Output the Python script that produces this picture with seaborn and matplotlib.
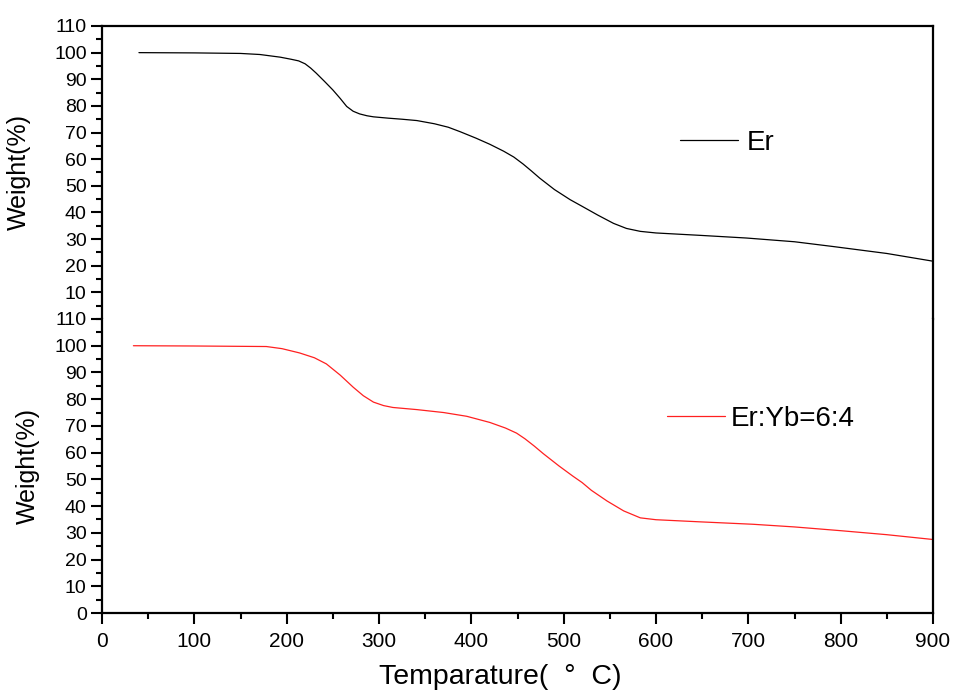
import matplotlib
matplotlib.use("Agg")
import matplotlib.pyplot as plt
import seaborn as sns
import pandas as pd
from matplotlib.ticker import MultipleLocator

# ---- data ----
er_temp = [40, 100, 150, 171, 193, 205, 213, 220, 226, 232, 241, 250, 258, 265, 272, 279, 287, 294, 310, 325, 341,
           360, 375, 388, 405, 420, 435, 446, 456, 465, 474, 490, 507, 520, 537, 554, 568, 583, 600, 648, 698, 750,
           792, 850, 900]
er_weight = [100, 99.9, 99.7, 99.3, 98.3, 97.5, 96.9, 95.8, 94.2, 92.3, 89.2, 86, 82.8, 79.8, 78, 77, 76.3, 75.9, 75.4, 75, 74.5,
             73.3, 72, 70.3, 67.9, 65.6, 63, 60.8, 58.2, 55.6, 52.9, 48.6, 44.8, 42.3, 39, 35.9, 34, 32.9, 32.3, 31.4, 30.4, 29,
             27.2, 24.6, 21.7]

eryb_temp = [34, 100, 178, 195, 214, 230, 243, 258, 272, 283, 294, 305, 315, 341, 370, 395, 420, 437, 449, 458, 468, 478,
             495, 510, 520, 530, 547, 565, 583, 600, 648, 705, 750, 800, 850, 900]
eryb_weight = [100, 99.9, 99.7, 98.9, 97.3, 95.5, 93.2, 89, 84.5, 81.3, 78.9, 77.6, 76.9, 76.1, 75, 73.6, 71.3, 69.2, 67.3, 65.2, 62.5, 59.6,
               55, 51.2, 48.8, 45.9, 41.9, 38.2, 35.6, 34.9, 34.1, 33.2, 32.2, 30.8, 29.3, 27.5]

x_ticks = [0, 100, 200, 300, 400, 500, 600, 700, 800, 900]
top_yticks = [10, 20, 30, 40, 50, 60, 70, 80, 90, 100, 110]
bottom_yticks = [0, 10, 20, 30, 40, 50, 60, 70, 80, 90, 100, 110]

df_er = pd.DataFrame({"T": er_temp, "W": er_weight})
df_eryb = pd.DataFrame({"T": eryb_temp, "W": eryb_weight})

sns.set_style("ticks")
plt.rcParams["font.family"] = ["Liberation Sans", "DejaVu Sans"]
plt.rcParams["axes.linewidth"] = 1.6
plt.rcParams["text.color"] = "black"
plt.rcParams["axes.labelcolor"] = "black"
plt.rcParams["xtick.color"] = "black"
plt.rcParams["ytick.color"] = "black"
plt.rcParams["axes.edgecolor"] = "black"

fig = plt.figure(figsize=(9.56, 6.93), dpi=100)
W, H = 956, 693
left, right = 102 / W, 933 / W
top_px, mid_px, bot_px = 26, 319, 613
ax_top = fig.add_axes([left, 1 - mid_px / H, right - left, (mid_px - top_px) / H])
ax_bot = fig.add_axes([left, 1 - bot_px / H, right - left, (bot_px - mid_px) / H], sharex=ax_top)

sns.lineplot(data=df_er, x="T", y="W", ax=ax_top, color="black", linewidth=0.9, label="Er")
sns.lineplot(data=df_eryb, x="T", y="W", ax=ax_bot, color="#ff2020", linewidth=0.9, label="Er:Yb=6:4")

for ax in (ax_top, ax_bot):
    ax.set_xlim(0, 900)
    ax.set_ylim(0, 110)
    ax.yaxis.set_minor_locator(MultipleLocator(5))
    ax.xaxis.set_minor_locator(MultipleLocator(50))
    ax.tick_params(axis="both", which="major", direction="out", length=8, width=1.5, labelsize=14,
                   colors="black")
    ax.tick_params(axis="both", which="minor", direction="out", length=4.5, width=1.5, colors="black")
    ax.tick_params(axis="y", right=False, pad=3)
    for s in ax.spines.values():
        s.set_linewidth(1.6)
        s.set_color("black")
    ax.set_ylabel("Weight(%)", fontsize=18, color="black")

ax_top.set_yticks(top_yticks)
ax_top.spines["bottom"].set_visible(False)
ax_top.tick_params(axis="x", which="both", bottom=False, labelbottom=False)
ax_top.set_xlabel("")

ax_bot.set_yticks(bottom_yticks)
ax_bot.spines["top"].set_visible(False)
ax_bot.set_xticks(x_ticks)
ax_bot.tick_params(axis="x", labelsize=15, pad=6)
ax_bot.set_xlabel("Temparature(  °  C)", fontsize=20.5, color="black")
ax_bot.xaxis.set_label_coords(0.479, -0.172)

ax_top.yaxis.set_label_coords(-0.085, 0.5)
ax_bot.yaxis.set_label_coords(-0.075, 0.5)

for ax, anchor, pad in ((ax_top, (0.6955, 0.60), 0.3), (ax_bot, (0.680, 0.66), 0.2)):
    leg = ax.legend(frameon=False, loc="center left", bbox_to_anchor=anchor,
                    fontsize=20, handlelength=2.1, handletextpad=pad, borderpad=0, borderaxespad=0)
    for t in leg.get_texts():
        t.set_color("black")

fig.savefig("out.png", dpi=100)
